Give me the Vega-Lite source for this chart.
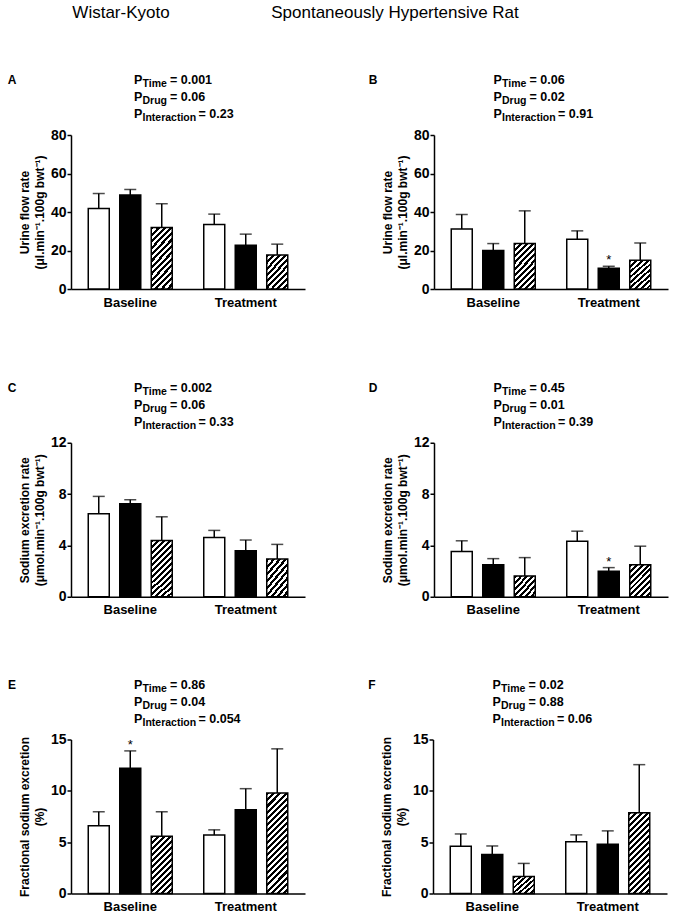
{
"$schema": "https://vega.github.io/schema/vega-lite/v6.json",
"background": "white",
"padding": {"left": 7, "top": 3, "right": 5, "bottom": 2},
"params": [
{"name":"h20","value":{"gradient":"linear","x1":0,"y1":0,"x2":1.047,"y2":0.948,"stops":[{"offset":0.0714,"color":"#000"},{"offset":0.0714,"color":"#fff"},{"offset":0.1429,"color":"#fff"},{"offset":0.1429,"color":"#000"},{"offset":0.2143,"color":"#000"},{"offset":0.2143,"color":"#fff"},{"offset":0.2857,"color":"#fff"},{"offset":0.2857,"color":"#000"},{"offset":0.3571,"color":"#000"},{"offset":0.3571,"color":"#fff"},{"offset":0.4286,"color":"#fff"},{"offset":0.4286,"color":"#000"},{"offset":0.5,"color":"#000"},{"offset":0.5,"color":"#fff"},{"offset":0.5714,"color":"#fff"},{"offset":0.5714,"color":"#000"},{"offset":0.6429,"color":"#000"},{"offset":0.6429,"color":"#fff"},{"offset":0.7143,"color":"#fff"},{"offset":0.7143,"color":"#000"},{"offset":0.7857,"color":"#000"},{"offset":0.7857,"color":"#fff"},{"offset":0.8571,"color":"#fff"},{"offset":0.8571,"color":"#000"},{"offset":0.9286,"color":"#000"},{"offset":0.9286,"color":"#fff"}]}},
{"name":"h32","value":{"gradient":"linear","x1":0,"y1":0,"x2":0.76,"y2":1.158,"stops":[{"offset":0.0556,"color":"#000"},{"offset":0.0556,"color":"#fff"},{"offset":0.1111,"color":"#fff"},{"offset":0.1111,"color":"#000"},{"offset":0.1667,"color":"#000"},{"offset":0.1667,"color":"#fff"},{"offset":0.2222,"color":"#fff"},{"offset":0.2222,"color":"#000"},{"offset":0.2778,"color":"#000"},{"offset":0.2778,"color":"#fff"},{"offset":0.3333,"color":"#fff"},{"offset":0.3333,"color":"#000"},{"offset":0.3889,"color":"#000"},{"offset":0.3889,"color":"#fff"},{"offset":0.4444,"color":"#fff"},{"offset":0.4444,"color":"#000"},{"offset":0.5,"color":"#000"},{"offset":0.5,"color":"#fff"},{"offset":0.5556,"color":"#fff"},{"offset":0.5556,"color":"#000"},{"offset":0.6111,"color":"#000"},{"offset":0.6111,"color":"#fff"},{"offset":0.6667,"color":"#fff"},{"offset":0.6667,"color":"#000"},{"offset":0.7222,"color":"#000"},{"offset":0.7222,"color":"#fff"},{"offset":0.7778,"color":"#fff"},{"offset":0.7778,"color":"#000"},{"offset":0.8333,"color":"#000"},{"offset":0.8333,"color":"#fff"},{"offset":0.8889,"color":"#fff"},{"offset":0.8889,"color":"#000"},{"offset":0.9444,"color":"#000"},{"offset":0.9444,"color":"#fff"}]}},
{"name":"h45","value":{"gradient":"linear","x1":0,"y1":0,"x2":0.562,"y2":1.204,"stops":[{"offset":0.0455,"color":"#000"},{"offset":0.0455,"color":"#fff"},{"offset":0.0909,"color":"#fff"},{"offset":0.0909,"color":"#000"},{"offset":0.1364,"color":"#000"},{"offset":0.1364,"color":"#fff"},{"offset":0.1818,"color":"#fff"},{"offset":0.1818,"color":"#000"},{"offset":0.2273,"color":"#000"},{"offset":0.2273,"color":"#fff"},{"offset":0.2727,"color":"#fff"},{"offset":0.2727,"color":"#000"},{"offset":0.3182,"color":"#000"},{"offset":0.3182,"color":"#fff"},{"offset":0.3636,"color":"#fff"},{"offset":0.3636,"color":"#000"},{"offset":0.4091,"color":"#000"},{"offset":0.4091,"color":"#fff"},{"offset":0.4545,"color":"#fff"},{"offset":0.4545,"color":"#000"},{"offset":0.5,"color":"#000"},{"offset":0.5,"color":"#fff"},{"offset":0.5455,"color":"#fff"},{"offset":0.5455,"color":"#000"},{"offset":0.5909,"color":"#000"},{"offset":0.5909,"color":"#fff"},{"offset":0.6364,"color":"#fff"},{"offset":0.6364,"color":"#000"},{"offset":0.6818,"color":"#000"},{"offset":0.6818,"color":"#fff"},{"offset":0.7273,"color":"#fff"},{"offset":0.7273,"color":"#000"},{"offset":0.7727,"color":"#000"},{"offset":0.7727,"color":"#fff"},{"offset":0.8182,"color":"#fff"},{"offset":0.8182,"color":"#000"},{"offset":0.8636,"color":"#000"},{"offset":0.8636,"color":"#fff"},{"offset":0.9091,"color":"#fff"},{"offset":0.9091,"color":"#000"},{"offset":0.9545,"color":"#000"},{"offset":0.9545,"color":"#fff"}]}},
{"name":"h58","value":{"gradient":"linear","x1":0,"y1":0,"x2":0.436,"y2":1.204,"stops":[{"offset":0.0385,"color":"#000"},{"offset":0.0385,"color":"#fff"},{"offset":0.0769,"color":"#fff"},{"offset":0.0769,"color":"#000"},{"offset":0.1154,"color":"#000"},{"offset":0.1154,"color":"#fff"},{"offset":0.1538,"color":"#fff"},{"offset":0.1538,"color":"#000"},{"offset":0.1923,"color":"#000"},{"offset":0.1923,"color":"#fff"},{"offset":0.2308,"color":"#fff"},{"offset":0.2308,"color":"#000"},{"offset":0.2692,"color":"#000"},{"offset":0.2692,"color":"#fff"},{"offset":0.3077,"color":"#fff"},{"offset":0.3077,"color":"#000"},{"offset":0.3462,"color":"#000"},{"offset":0.3462,"color":"#fff"},{"offset":0.3846,"color":"#fff"},{"offset":0.3846,"color":"#000"},{"offset":0.4231,"color":"#000"},{"offset":0.4231,"color":"#fff"},{"offset":0.4615,"color":"#fff"},{"offset":0.4615,"color":"#000"},{"offset":0.5,"color":"#000"},{"offset":0.5,"color":"#fff"},{"offset":0.5385,"color":"#fff"},{"offset":0.5385,"color":"#000"},{"offset":0.5769,"color":"#000"},{"offset":0.5769,"color":"#fff"},{"offset":0.6154,"color":"#fff"},{"offset":0.6154,"color":"#000"},{"offset":0.6538,"color":"#000"},{"offset":0.6538,"color":"#fff"},{"offset":0.6923,"color":"#fff"},{"offset":0.6923,"color":"#000"},{"offset":0.7308,"color":"#000"},{"offset":0.7308,"color":"#fff"},{"offset":0.7692,"color":"#fff"},{"offset":0.7692,"color":"#000"},{"offset":0.8077,"color":"#000"},{"offset":0.8077,"color":"#fff"},{"offset":0.8462,"color":"#fff"},{"offset":0.8462,"color":"#000"},{"offset":0.8846,"color":"#000"},{"offset":0.8846,"color":"#fff"},{"offset":0.9231,"color":"#fff"},{"offset":0.9231,"color":"#000"},{"offset":0.9615,"color":"#000"},{"offset":0.9615,"color":"#fff"}]}},
{"name":"h80","value":{"gradient":"linear","x1":0,"y1":0,"x2":0.31,"y2":1.182,"stops":[{"offset":0.0294,"color":"#000"},{"offset":0.0294,"color":"#fff"},{"offset":0.0588,"color":"#fff"},{"offset":0.0588,"color":"#000"},{"offset":0.0882,"color":"#000"},{"offset":0.0882,"color":"#fff"},{"offset":0.1176,"color":"#fff"},{"offset":0.1176,"color":"#000"},{"offset":0.1471,"color":"#000"},{"offset":0.1471,"color":"#fff"},{"offset":0.1765,"color":"#fff"},{"offset":0.1765,"color":"#000"},{"offset":0.2059,"color":"#000"},{"offset":0.2059,"color":"#fff"},{"offset":0.2353,"color":"#fff"},{"offset":0.2353,"color":"#000"},{"offset":0.2647,"color":"#000"},{"offset":0.2647,"color":"#fff"},{"offset":0.2941,"color":"#fff"},{"offset":0.2941,"color":"#000"},{"offset":0.3235,"color":"#000"},{"offset":0.3235,"color":"#fff"},{"offset":0.3529,"color":"#fff"},{"offset":0.3529,"color":"#000"},{"offset":0.3824,"color":"#000"},{"offset":0.3824,"color":"#fff"},{"offset":0.4118,"color":"#fff"},{"offset":0.4118,"color":"#000"},{"offset":0.4412,"color":"#000"},{"offset":0.4412,"color":"#fff"},{"offset":0.4706,"color":"#fff"},{"offset":0.4706,"color":"#000"},{"offset":0.5,"color":"#000"},{"offset":0.5,"color":"#fff"},{"offset":0.5294,"color":"#fff"},{"offset":0.5294,"color":"#000"},{"offset":0.5588,"color":"#000"},{"offset":0.5588,"color":"#fff"},{"offset":0.5882,"color":"#fff"},{"offset":0.5882,"color":"#000"},{"offset":0.6176,"color":"#000"},{"offset":0.6176,"color":"#fff"},{"offset":0.6471,"color":"#fff"},{"offset":0.6471,"color":"#000"},{"offset":0.6765,"color":"#000"},{"offset":0.6765,"color":"#fff"},{"offset":0.7059,"color":"#fff"},{"offset":0.7059,"color":"#000"},{"offset":0.7353,"color":"#000"},{"offset":0.7353,"color":"#fff"},{"offset":0.7647,"color":"#fff"},{"offset":0.7647,"color":"#000"},{"offset":0.7941,"color":"#000"},{"offset":0.7941,"color":"#fff"},{"offset":0.8235,"color":"#fff"},{"offset":0.8235,"color":"#000"},{"offset":0.8529,"color":"#000"},{"offset":0.8529,"color":"#fff"},{"offset":0.8824,"color":"#fff"},{"offset":0.8824,"color":"#000"},{"offset":0.9118,"color":"#000"},{"offset":0.9118,"color":"#fff"},{"offset":0.9412,"color":"#fff"},{"offset":0.9412,"color":"#000"},{"offset":0.9706,"color":"#000"},{"offset":0.9706,"color":"#fff"}]}},
{"name":"h100","value":{"gradient":"linear","x1":0,"y1":0,"x2":0.243,"y2":1.159,"stops":[{"offset":0.025,"color":"#000"},{"offset":0.025,"color":"#fff"},{"offset":0.05,"color":"#fff"},{"offset":0.05,"color":"#000"},{"offset":0.075,"color":"#000"},{"offset":0.075,"color":"#fff"},{"offset":0.1,"color":"#fff"},{"offset":0.1,"color":"#000"},{"offset":0.125,"color":"#000"},{"offset":0.125,"color":"#fff"},{"offset":0.15,"color":"#fff"},{"offset":0.15,"color":"#000"},{"offset":0.175,"color":"#000"},{"offset":0.175,"color":"#fff"},{"offset":0.2,"color":"#fff"},{"offset":0.2,"color":"#000"},{"offset":0.225,"color":"#000"},{"offset":0.225,"color":"#fff"},{"offset":0.25,"color":"#fff"},{"offset":0.25,"color":"#000"},{"offset":0.275,"color":"#000"},{"offset":0.275,"color":"#fff"},{"offset":0.3,"color":"#fff"},{"offset":0.3,"color":"#000"},{"offset":0.325,"color":"#000"},{"offset":0.325,"color":"#fff"},{"offset":0.35,"color":"#fff"},{"offset":0.35,"color":"#000"},{"offset":0.375,"color":"#000"},{"offset":0.375,"color":"#fff"},{"offset":0.4,"color":"#fff"},{"offset":0.4,"color":"#000"},{"offset":0.425,"color":"#000"},{"offset":0.425,"color":"#fff"},{"offset":0.45,"color":"#fff"},{"offset":0.45,"color":"#000"},{"offset":0.475,"color":"#000"},{"offset":0.475,"color":"#fff"},{"offset":0.5,"color":"#fff"},{"offset":0.5,"color":"#000"},{"offset":0.525,"color":"#000"},{"offset":0.525,"color":"#fff"},{"offset":0.55,"color":"#fff"},{"offset":0.55,"color":"#000"},{"offset":0.575,"color":"#000"},{"offset":0.575,"color":"#fff"},{"offset":0.6,"color":"#fff"},{"offset":0.6,"color":"#000"},{"offset":0.625,"color":"#000"},{"offset":0.625,"color":"#fff"},{"offset":0.65,"color":"#fff"},{"offset":0.65,"color":"#000"},{"offset":0.675,"color":"#000"},{"offset":0.675,"color":"#fff"},{"offset":0.7,"color":"#fff"},{"offset":0.7,"color":"#000"},{"offset":0.725,"color":"#000"},{"offset":0.725,"color":"#fff"},{"offset":0.75,"color":"#fff"},{"offset":0.75,"color":"#000"},{"offset":0.775,"color":"#000"},{"offset":0.775,"color":"#fff"},{"offset":0.8,"color":"#fff"},{"offset":0.8,"color":"#000"},{"offset":0.825,"color":"#000"},{"offset":0.825,"color":"#fff"},{"offset":0.85,"color":"#fff"},{"offset":0.85,"color":"#000"},{"offset":0.875,"color":"#000"},{"offset":0.875,"color":"#fff"},{"offset":0.9,"color":"#fff"},{"offset":0.9,"color":"#000"},{"offset":0.925,"color":"#000"},{"offset":0.925,"color":"#fff"},{"offset":0.95,"color":"#fff"},{"offset":0.95,"color":"#000"},{"offset":0.975,"color":"#000"},{"offset":0.975,"color":"#fff"}]}}
],
"datasets": {
"cols": [{"col":"Wistar-Kyoto"},{"col":"Spontaneously Hypertensive Rat"}],
"bars": [
{"panel":"A","time":"Baseline","group":"1","mean":41.8,"upper":49.6},
{"panel":"A","time":"Baseline","group":"2","mean":48.8,"upper":51.7},
{"panel":"A","time":"Baseline","group":"3","mean":31.9,"upper":44.3},
{"panel":"A","time":"Treatment","group":"1","mean":33.5,"upper":38.9},
{"panel":"A","time":"Treatment","group":"2","mean":22.7,"upper":28.5},
{"panel":"A","time":"Treatment","group":"3","mean":17.7,"upper":23.3},
{"panel":"B","time":"Baseline","group":"1","mean":31.2,"upper":38.7},
{"panel":"B","time":"Baseline","group":"2","mean":20.0,"upper":23.6},
{"panel":"B","time":"Baseline","group":"3","mean":23.6,"upper":40.6},
{"panel":"B","time":"Treatment","group":"1","mean":25.9,"upper":30.2},
{"panel":"B","time":"Treatment","group":"2","mean":10.8,"upper":11.8,"sig":"*"},
{"panel":"B","time":"Treatment","group":"3","mean":14.9,"upper":23.9},
{"panel":"C","time":"Baseline","group":"1","mean":6.47,"upper":7.82},
{"panel":"C","time":"Baseline","group":"2","mean":7.25,"upper":7.56},
{"panel":"C","time":"Baseline","group":"3","mean":4.39,"upper":6.23},
{"panel":"C","time":"Treatment","group":"1","mean":4.62,"upper":5.17},
{"panel":"C","time":"Treatment","group":"2","mean":3.58,"upper":4.42},
{"panel":"C","time":"Treatment","group":"3","mean":2.94,"upper":4.08},
{"panel":"D","time":"Baseline","group":"1","mean":3.52,"upper":4.36},
{"panel":"D","time":"Baseline","group":"2","mean":2.5,"upper":2.97},
{"panel":"D","time":"Baseline","group":"3","mean":1.62,"upper":3.05},
{"panel":"D","time":"Treatment","group":"1","mean":4.33,"upper":5.11},
{"panel":"D","time":"Treatment","group":"2","mean":1.98,"upper":2.27,"sig":"*"},
{"panel":"D","time":"Treatment","group":"3","mean":2.5,"upper":3.94},
{"panel":"E","time":"Baseline","group":"1","mean":6.59,"upper":7.96},
{"panel":"E","time":"Baseline","group":"2","mean":12.19,"upper":13.89,"sig":"*"},
{"panel":"E","time":"Baseline","group":"3","mean":5.58,"upper":7.96},
{"panel":"E","time":"Treatment","group":"1","mean":5.71,"upper":6.2},
{"panel":"E","time":"Treatment","group":"2","mean":8.15,"upper":10.21},
{"panel":"E","time":"Treatment","group":"3","mean":9.78,"upper":14.09},
{"panel":"F","time":"Baseline","group":"1","mean":4.6,"upper":5.8},
{"panel":"F","time":"Baseline","group":"2","mean":3.81,"upper":4.63},
{"panel":"F","time":"Baseline","group":"3","mean":1.66,"upper":2.93},
{"panel":"F","time":"Treatment","group":"1","mean":5.05,"upper":5.71},
{"panel":"F","time":"Treatment","group":"2","mean":4.79,"upper":6.1},
{"panel":"F","time":"Treatment","group":"3","mean":7.86,"upper":12.55}
],
"pvals": [
{"panel":"A","line":1,"sub":"Time","val":"= 0.001"},
{"panel":"A","line":2,"sub":"Drug","val":"= 0.06"},
{"panel":"A","line":3,"sub":"Interaction","val":"= 0.23"},
{"panel":"B","line":1,"sub":"Time","val":"= 0.06"},
{"panel":"B","line":2,"sub":"Drug","val":"= 0.02"},
{"panel":"B","line":3,"sub":"Interaction","val":"= 0.91"},
{"panel":"C","line":1,"sub":"Time","val":"= 0.002"},
{"panel":"C","line":2,"sub":"Drug","val":"= 0.06"},
{"panel":"C","line":3,"sub":"Interaction","val":"= 0.33"},
{"panel":"D","line":1,"sub":"Time","val":"= 0.45"},
{"panel":"D","line":2,"sub":"Drug","val":"= 0.01"},
{"panel":"D","line":3,"sub":"Interaction","val":"= 0.39"},
{"panel":"E","line":1,"sub":"Time","val":"= 0.86"},
{"panel":"E","line":2,"sub":"Drug","val":"= 0.04"},
{"panel":"E","line":3,"sub":"Interaction","val":"= 0.054"},
{"panel":"F","line":1,"sub":"Time","val":"= 0.02"},
{"panel":"F","line":2,"sub":"Drug","val":"= 0.88"},
{"panel":"F","line":3,"sub":"Interaction","val":"= 0.06"}
]
},
"config": {
"font": "Liberation Sans",
"view": {"stroke": null},
"text": {"color": "#000", "font": "Liberation Sans"},
"axis": {"labelFont": "Liberation Sans", "labelFontWeight": "bold", "labelColor": "#000", "titleFont": "Liberation Sans", "titleFontWeight": "bold", "titleColor": "#000", "titleFontSize": 12, "titleLineHeight": 15, "domainColor": "#000", "domainWidth": 1.5, "tickColor": "#000", "tickWidth": 1.5, "grid": false, "labelOverlap": false},
"axisY": {"labelFontSize": 14, "tickSize": 4, "labelPadding": 1, "titlePadding": 4},
"axisX": {"labelFontSize": 13, "ticks": false, "tickSize": 0, "labelPadding": 7, "labelAngle": 0}
},
"spacing": 51,
"vconcat": [
{"width": 374, "height": 20, "data": {"name": "cols"}, "mark": {"type": "text", "fontSize": 17, "fontWeight": "normal"}, "encoding": {"x": {"field": "col", "type": "nominal", "sort": ["Wistar-Kyoto", "Spontaneously Hypertensive Rat"], "scale": {"type": "point", "padding": 0.1825}, "axis": null}, "text": {"field": "col"}}},
{"spacing": 72.75, "vconcat": [
{"hconcat": [
{"vconcat": [
{"width": 234, "height": 34, "data": {"name": "pvals"}, "transform": [{"filter": "datum.panel == 'A'"}], "encoding": {"y": {"field": "line", "type": "ordinal", "scale": {"type": "point", "padding": 0}, "axis": null}}, "layer": [
{"transform": [{"filter": "datum.line == 1"}], "mark": {"type": "text", "align": "center", "dx": -176, "fontSize": 12, "fontWeight": "bold"}, "encoding": {"text": {"field": "panel"}}},
{"mark": {"type": "text", "align": "left", "dx": -54, "fontSize": 12.5, "fontWeight": "bold", "text": "P"}},
{"mark": {"type": "text", "align": "left", "dx": -45.5, "dy": 4, "fontSize": 10.5, "fontWeight": "bold"}, "encoding": {"text": {"field": "sub"}}},
{"transform": [{"filter": "datum.line < 3"}], "mark": {"type": "text", "align": "left", "dx": -18, "fontSize": 12.5, "fontWeight": "bold"}, "encoding": {"text": {"field": "val"}}},
{"transform": [{"filter": "datum.line == 3"}], "mark": {"type": "text", "align": "left", "dx": 10.5, "fontSize": 12.5, "fontWeight": "bold"}, "encoding": {"text": {"field": "val"}}}
]},
{"width": 234, "height": 154, "data": {"name": "bars"}, "transform": [{"filter": "datum.panel == 'A'"}],
"encoding": {"x": {"field": "time", "type": "nominal", "scale": {"paddingInner": 0.2727, "paddingOuter": 0.1494}, "axis": {"title": null}}, "xOffset": {"field": "group", "type": "nominal", "scale": {"paddingInner": 0.3333, "paddingOuter": 0}}},
"layer": [
{"mark": {"type": "rule", "color": "#000", "strokeWidth": 1.5}, "encoding": {"y": {"field": "mean", "type": "quantitative", "scale": {"domain": [0, 80], "nice": false}, "axis": {"title": ["Urine flow rate", "(μl.min⁻¹.100g bwt⁻¹)"], "values": [0, 20, 40, 60, 80], "tickCount": 10}}, "y2": {"field": "upper"}}},
{"mark": {"type": "tick", "orient": "horizontal", "color": "#000", "size": 12, "thickness": 1.5}, "encoding": {"y": {"field": "upper", "type": "quantitative"}}},
{"mark": {"type": "bar", "stroke": "#000", "strokeWidth": 1.5}, "encoding": {"y": {"field": "mean", "type": "quantitative"}, "fill": {"condition": [{"test": "datum.group == '1'", "value": "#ffffff"}, {"test": "datum.group == '2'", "value": "#000000"}, {"test": "datum.time == 'Baseline'", "value": {"expr": "h58"}}], "value": {"expr": "h32"}}}},
{"transform": [{"filter": "datum.sig == '*'"}], "mark": {"type": "text", "baseline": "alphabetic", "dy": -2, "fontSize": 13}, "encoding": {"y": {"field": "upper", "type": "quantitative"}, "text": {"field": "sig"}}}
]}
], "spacing": 21, "bounds": "flush"},
{"vconcat": [
{"width": 234, "height": 34, "data": {"name": "pvals"}, "transform": [{"filter": "datum.panel == 'B'"}], "encoding": {"y": {"field": "line", "type": "ordinal", "scale": {"type": "point", "padding": 0}, "axis": null}}, "layer": [
{"transform": [{"filter": "datum.line == 1"}], "mark": {"type": "text", "align": "center", "dx": -178, "fontSize": 12, "fontWeight": "bold"}, "encoding": {"text": {"field": "panel"}}},
{"mark": {"type": "text", "align": "left", "dx": -57.5, "fontSize": 12.5, "fontWeight": "bold", "text": "P"}},
{"mark": {"type": "text", "align": "left", "dx": -49, "dy": 4, "fontSize": 10.5, "fontWeight": "bold"}, "encoding": {"text": {"field": "sub"}}},
{"transform": [{"filter": "datum.line < 3"}], "mark": {"type": "text", "align": "left", "dx": -21.5, "fontSize": 12.5, "fontWeight": "bold"}, "encoding": {"text": {"field": "val"}}},
{"transform": [{"filter": "datum.line == 3"}], "mark": {"type": "text", "align": "left", "dx": 7, "fontSize": 12.5, "fontWeight": "bold"}, "encoding": {"text": {"field": "val"}}}
]},
{"width": 234, "height": 154, "data": {"name": "bars"}, "transform": [{"filter": "datum.panel == 'B'"}],
"encoding": {"x": {"field": "time", "type": "nominal", "scale": {"paddingInner": 0.2727, "paddingOuter": 0.1494}, "axis": {"title": null}}, "xOffset": {"field": "group", "type": "nominal", "scale": {"paddingInner": 0.3333, "paddingOuter": 0}}},
"layer": [
{"mark": {"type": "rule", "color": "#000", "strokeWidth": 1.5}, "encoding": {"y": {"field": "mean", "type": "quantitative", "scale": {"domain": [0, 80], "nice": false}, "axis": {"title": ["Urine flow rate", "(μl.min⁻¹.100g bwt⁻¹)"], "values": [0, 20, 40, 60, 80], "tickCount": 10}}, "y2": {"field": "upper"}}},
{"mark": {"type": "tick", "orient": "horizontal", "color": "#000", "size": 12, "thickness": 1.5}, "encoding": {"y": {"field": "upper", "type": "quantitative"}}},
{"mark": {"type": "bar", "stroke": "#000", "strokeWidth": 1.5}, "encoding": {"y": {"field": "mean", "type": "quantitative"}, "fill": {"condition": [{"test": "datum.group == '1'", "value": "#ffffff"}, {"test": "datum.group == '2'", "value": "#000000"}, {"test": "datum.time == 'Baseline'", "value": {"expr": "h45"}}], "value": {"expr": "h32"}}}},
{"transform": [{"filter": "datum.sig == '*'"}], "mark": {"type": "text", "baseline": "alphabetic", "dy": -2, "fontSize": 13}, "encoding": {"y": {"field": "upper", "type": "quantitative"}, "text": {"field": "sig"}}}
]}
], "spacing": 21, "bounds": "flush"}
], "spacing": 63},
{"spacing": 61.75, "vconcat": [
{"hconcat": [
{"vconcat": [
{"width": 234, "height": 34, "data": {"name": "pvals"}, "transform": [{"filter": "datum.panel == 'C'"}], "encoding": {"y": {"field": "line", "type": "ordinal", "scale": {"type": "point", "padding": 0}, "axis": null}}, "layer": [
{"transform": [{"filter": "datum.line == 1"}], "mark": {"type": "text", "align": "center", "dx": -176, "fontSize": 12, "fontWeight": "bold"}, "encoding": {"text": {"field": "panel"}}},
{"mark": {"type": "text", "align": "left", "dx": -54, "fontSize": 12.5, "fontWeight": "bold", "text": "P"}},
{"mark": {"type": "text", "align": "left", "dx": -45.5, "dy": 4, "fontSize": 10.5, "fontWeight": "bold"}, "encoding": {"text": {"field": "sub"}}},
{"transform": [{"filter": "datum.line < 3"}], "mark": {"type": "text", "align": "left", "dx": -18, "fontSize": 12.5, "fontWeight": "bold"}, "encoding": {"text": {"field": "val"}}},
{"transform": [{"filter": "datum.line == 3"}], "mark": {"type": "text", "align": "left", "dx": 10.5, "fontSize": 12.5, "fontWeight": "bold"}, "encoding": {"text": {"field": "val"}}}
]},
{"width": 234, "height": 154, "data": {"name": "bars"}, "transform": [{"filter": "datum.panel == 'C'"}],
"encoding": {"x": {"field": "time", "type": "nominal", "scale": {"paddingInner": 0.2727, "paddingOuter": 0.1494}, "axis": {"title": null}}, "xOffset": {"field": "group", "type": "nominal", "scale": {"paddingInner": 0.3333, "paddingOuter": 0}}},
"layer": [
{"mark": {"type": "rule", "color": "#000", "strokeWidth": 1.5}, "encoding": {"y": {"field": "mean", "type": "quantitative", "scale": {"domain": [0, 12], "nice": false}, "axis": {"title": ["Sodium excretion rate", "(μmol.min⁻¹.100g bwt⁻¹)"], "values": [0, 4, 8, 12], "tickCount": 10}}, "y2": {"field": "upper"}}},
{"mark": {"type": "tick", "orient": "horizontal", "color": "#000", "size": 12, "thickness": 1.5}, "encoding": {"y": {"field": "upper", "type": "quantitative"}}},
{"mark": {"type": "bar", "stroke": "#000", "strokeWidth": 1.5}, "encoding": {"y": {"field": "mean", "type": "quantitative"}, "fill": {"condition": [{"test": "datum.group == '1'", "value": "#ffffff"}, {"test": "datum.group == '2'", "value": "#000000"}, {"test": "datum.time == 'Baseline'", "value": {"expr": "h58"}}], "value": {"expr": "h32"}}}},
{"transform": [{"filter": "datum.sig == '*'"}], "mark": {"type": "text", "baseline": "alphabetic", "dy": -2, "fontSize": 13}, "encoding": {"y": {"field": "upper", "type": "quantitative"}, "text": {"field": "sig"}}}
]}
], "spacing": 21, "bounds": "flush"},
{"vconcat": [
{"width": 234, "height": 34, "data": {"name": "pvals"}, "transform": [{"filter": "datum.panel == 'D'"}], "encoding": {"y": {"field": "line", "type": "ordinal", "scale": {"type": "point", "padding": 0}, "axis": null}}, "layer": [
{"transform": [{"filter": "datum.line == 1"}], "mark": {"type": "text", "align": "center", "dx": -178, "fontSize": 12, "fontWeight": "bold"}, "encoding": {"text": {"field": "panel"}}},
{"mark": {"type": "text", "align": "left", "dx": -57.5, "fontSize": 12.5, "fontWeight": "bold", "text": "P"}},
{"mark": {"type": "text", "align": "left", "dx": -49, "dy": 4, "fontSize": 10.5, "fontWeight": "bold"}, "encoding": {"text": {"field": "sub"}}},
{"transform": [{"filter": "datum.line < 3"}], "mark": {"type": "text", "align": "left", "dx": -21.5, "fontSize": 12.5, "fontWeight": "bold"}, "encoding": {"text": {"field": "val"}}},
{"transform": [{"filter": "datum.line == 3"}], "mark": {"type": "text", "align": "left", "dx": 7, "fontSize": 12.5, "fontWeight": "bold"}, "encoding": {"text": {"field": "val"}}}
]},
{"width": 234, "height": 154, "data": {"name": "bars"}, "transform": [{"filter": "datum.panel == 'D'"}],
"encoding": {"x": {"field": "time", "type": "nominal", "scale": {"paddingInner": 0.2727, "paddingOuter": 0.1494}, "axis": {"title": null}}, "xOffset": {"field": "group", "type": "nominal", "scale": {"paddingInner": 0.3333, "paddingOuter": 0}}},
"layer": [
{"mark": {"type": "rule", "color": "#000", "strokeWidth": 1.5}, "encoding": {"y": {"field": "mean", "type": "quantitative", "scale": {"domain": [0, 12], "nice": false}, "axis": {"title": ["Sodium excretion rate", "(μmol.min⁻¹.100g bwt⁻¹)"], "values": [0, 4, 8, 12], "tickCount": 10}}, "y2": {"field": "upper"}}},
{"mark": {"type": "tick", "orient": "horizontal", "color": "#000", "size": 12, "thickness": 1.5}, "encoding": {"y": {"field": "upper", "type": "quantitative"}}},
{"mark": {"type": "bar", "stroke": "#000", "strokeWidth": 1.5}, "encoding": {"y": {"field": "mean", "type": "quantitative"}, "fill": {"condition": [{"test": "datum.group == '1'", "value": "#ffffff"}, {"test": "datum.group == '2'", "value": "#000000"}, {"test": "datum.time == 'Baseline'", "value": {"expr": "h20"}}], "value": {"expr": "h32"}}}},
{"transform": [{"filter": "datum.sig == '*'"}], "mark": {"type": "text", "baseline": "alphabetic", "dy": -2, "fontSize": 13}, "encoding": {"y": {"field": "upper", "type": "quantitative"}, "text": {"field": "sig"}}}
]}
], "spacing": 21, "bounds": "flush"}
], "spacing": 63},
{"hconcat": [
{"vconcat": [
{"width": 234, "height": 34, "data": {"name": "pvals"}, "transform": [{"filter": "datum.panel == 'E'"}], "encoding": {"y": {"field": "line", "type": "ordinal", "scale": {"type": "point", "padding": 0}, "axis": null}}, "layer": [
{"transform": [{"filter": "datum.line == 1"}], "mark": {"type": "text", "align": "center", "dx": -176, "fontSize": 12, "fontWeight": "bold"}, "encoding": {"text": {"field": "panel"}}},
{"mark": {"type": "text", "align": "left", "dx": -54, "fontSize": 12.5, "fontWeight": "bold", "text": "P"}},
{"mark": {"type": "text", "align": "left", "dx": -45.5, "dy": 4, "fontSize": 10.5, "fontWeight": "bold"}, "encoding": {"text": {"field": "sub"}}},
{"transform": [{"filter": "datum.line < 3"}], "mark": {"type": "text", "align": "left", "dx": -18, "fontSize": 12.5, "fontWeight": "bold"}, "encoding": {"text": {"field": "val"}}},
{"transform": [{"filter": "datum.line == 3"}], "mark": {"type": "text", "align": "left", "dx": 10.5, "fontSize": 12.5, "fontWeight": "bold"}, "encoding": {"text": {"field": "val"}}}
]},
{"width": 234, "height": 154, "data": {"name": "bars"}, "transform": [{"filter": "datum.panel == 'E'"}],
"encoding": {"x": {"field": "time", "type": "nominal", "scale": {"paddingInner": 0.2727, "paddingOuter": 0.1494}, "axis": {"title": null}}, "xOffset": {"field": "group", "type": "nominal", "scale": {"paddingInner": 0.3333, "paddingOuter": 0}}},
"layer": [
{"mark": {"type": "rule", "color": "#000", "strokeWidth": 1.5}, "encoding": {"y": {"field": "mean", "type": "quantitative", "scale": {"domain": [0, 15], "nice": false}, "axis": {"title": ["Fractional sodium excretion", "(%)"], "values": [0, 5, 10, 15], "tickCount": 10}}, "y2": {"field": "upper"}}},
{"mark": {"type": "tick", "orient": "horizontal", "color": "#000", "size": 12, "thickness": 1.5}, "encoding": {"y": {"field": "upper", "type": "quantitative"}}},
{"mark": {"type": "bar", "stroke": "#000", "strokeWidth": 1.5}, "encoding": {"y": {"field": "mean", "type": "quantitative"}, "fill": {"condition": [{"test": "datum.group == '1'", "value": "#ffffff"}, {"test": "datum.group == '2'", "value": "#000000"}, {"test": "datum.time == 'Baseline'", "value": {"expr": "h58"}}], "value": {"expr": "h100"}}}},
{"transform": [{"filter": "datum.sig == '*'"}], "mark": {"type": "text", "baseline": "alphabetic", "dy": -2, "fontSize": 13}, "encoding": {"y": {"field": "upper", "type": "quantitative"}, "text": {"field": "sig"}}}
]}
], "spacing": 21, "bounds": "flush"},
{"vconcat": [
{"width": 234, "height": 34, "data": {"name": "pvals"}, "transform": [{"filter": "datum.panel == 'F'"}], "encoding": {"y": {"field": "line", "type": "ordinal", "scale": {"type": "point", "padding": 0}, "axis": null}}, "layer": [
{"transform": [{"filter": "datum.line == 1"}], "mark": {"type": "text", "align": "center", "dx": -178, "fontSize": 12, "fontWeight": "bold"}, "encoding": {"text": {"field": "panel"}}},
{"mark": {"type": "text", "align": "left", "dx": -57.5, "fontSize": 12.5, "fontWeight": "bold", "text": "P"}},
{"mark": {"type": "text", "align": "left", "dx": -49, "dy": 4, "fontSize": 10.5, "fontWeight": "bold"}, "encoding": {"text": {"field": "sub"}}},
{"transform": [{"filter": "datum.line < 3"}], "mark": {"type": "text", "align": "left", "dx": -21.5, "fontSize": 12.5, "fontWeight": "bold"}, "encoding": {"text": {"field": "val"}}},
{"transform": [{"filter": "datum.line == 3"}], "mark": {"type": "text", "align": "left", "dx": 7, "fontSize": 12.5, "fontWeight": "bold"}, "encoding": {"text": {"field": "val"}}}
]},
{"width": 234, "height": 154, "data": {"name": "bars"}, "transform": [{"filter": "datum.panel == 'F'"}],
"encoding": {"x": {"field": "time", "type": "nominal", "scale": {"paddingInner": 0.2727, "paddingOuter": 0.1494}, "axis": {"title": null}}, "xOffset": {"field": "group", "type": "nominal", "scale": {"paddingInner": 0.3333, "paddingOuter": 0}}},
"layer": [
{"mark": {"type": "rule", "color": "#000", "strokeWidth": 1.5}, "encoding": {"y": {"field": "mean", "type": "quantitative", "scale": {"domain": [0, 15], "nice": false}, "axis": {"title": ["Fractional sodium excretion", "(%)"], "values": [0, 5, 10, 15], "tickCount": 10}}, "y2": {"field": "upper"}}},
{"mark": {"type": "tick", "orient": "horizontal", "color": "#000", "size": 12, "thickness": 1.5}, "encoding": {"y": {"field": "upper", "type": "quantitative"}}},
{"mark": {"type": "bar", "stroke": "#000", "strokeWidth": 1.5}, "encoding": {"y": {"field": "mean", "type": "quantitative"}, "fill": {"condition": [{"test": "datum.group == '1'", "value": "#ffffff"}, {"test": "datum.group == '2'", "value": "#000000"}, {"test": "datum.time == 'Baseline'", "value": {"expr": "h20"}}], "value": {"expr": "h80"}}}},
{"transform": [{"filter": "datum.sig == '*'"}], "mark": {"type": "text", "baseline": "alphabetic", "dy": -2, "fontSize": 13}, "encoding": {"y": {"field": "upper", "type": "quantitative"}, "text": {"field": "sig"}}}
]}
], "spacing": 21, "bounds": "flush"}
], "spacing": 63}
]}
]}
]
}
